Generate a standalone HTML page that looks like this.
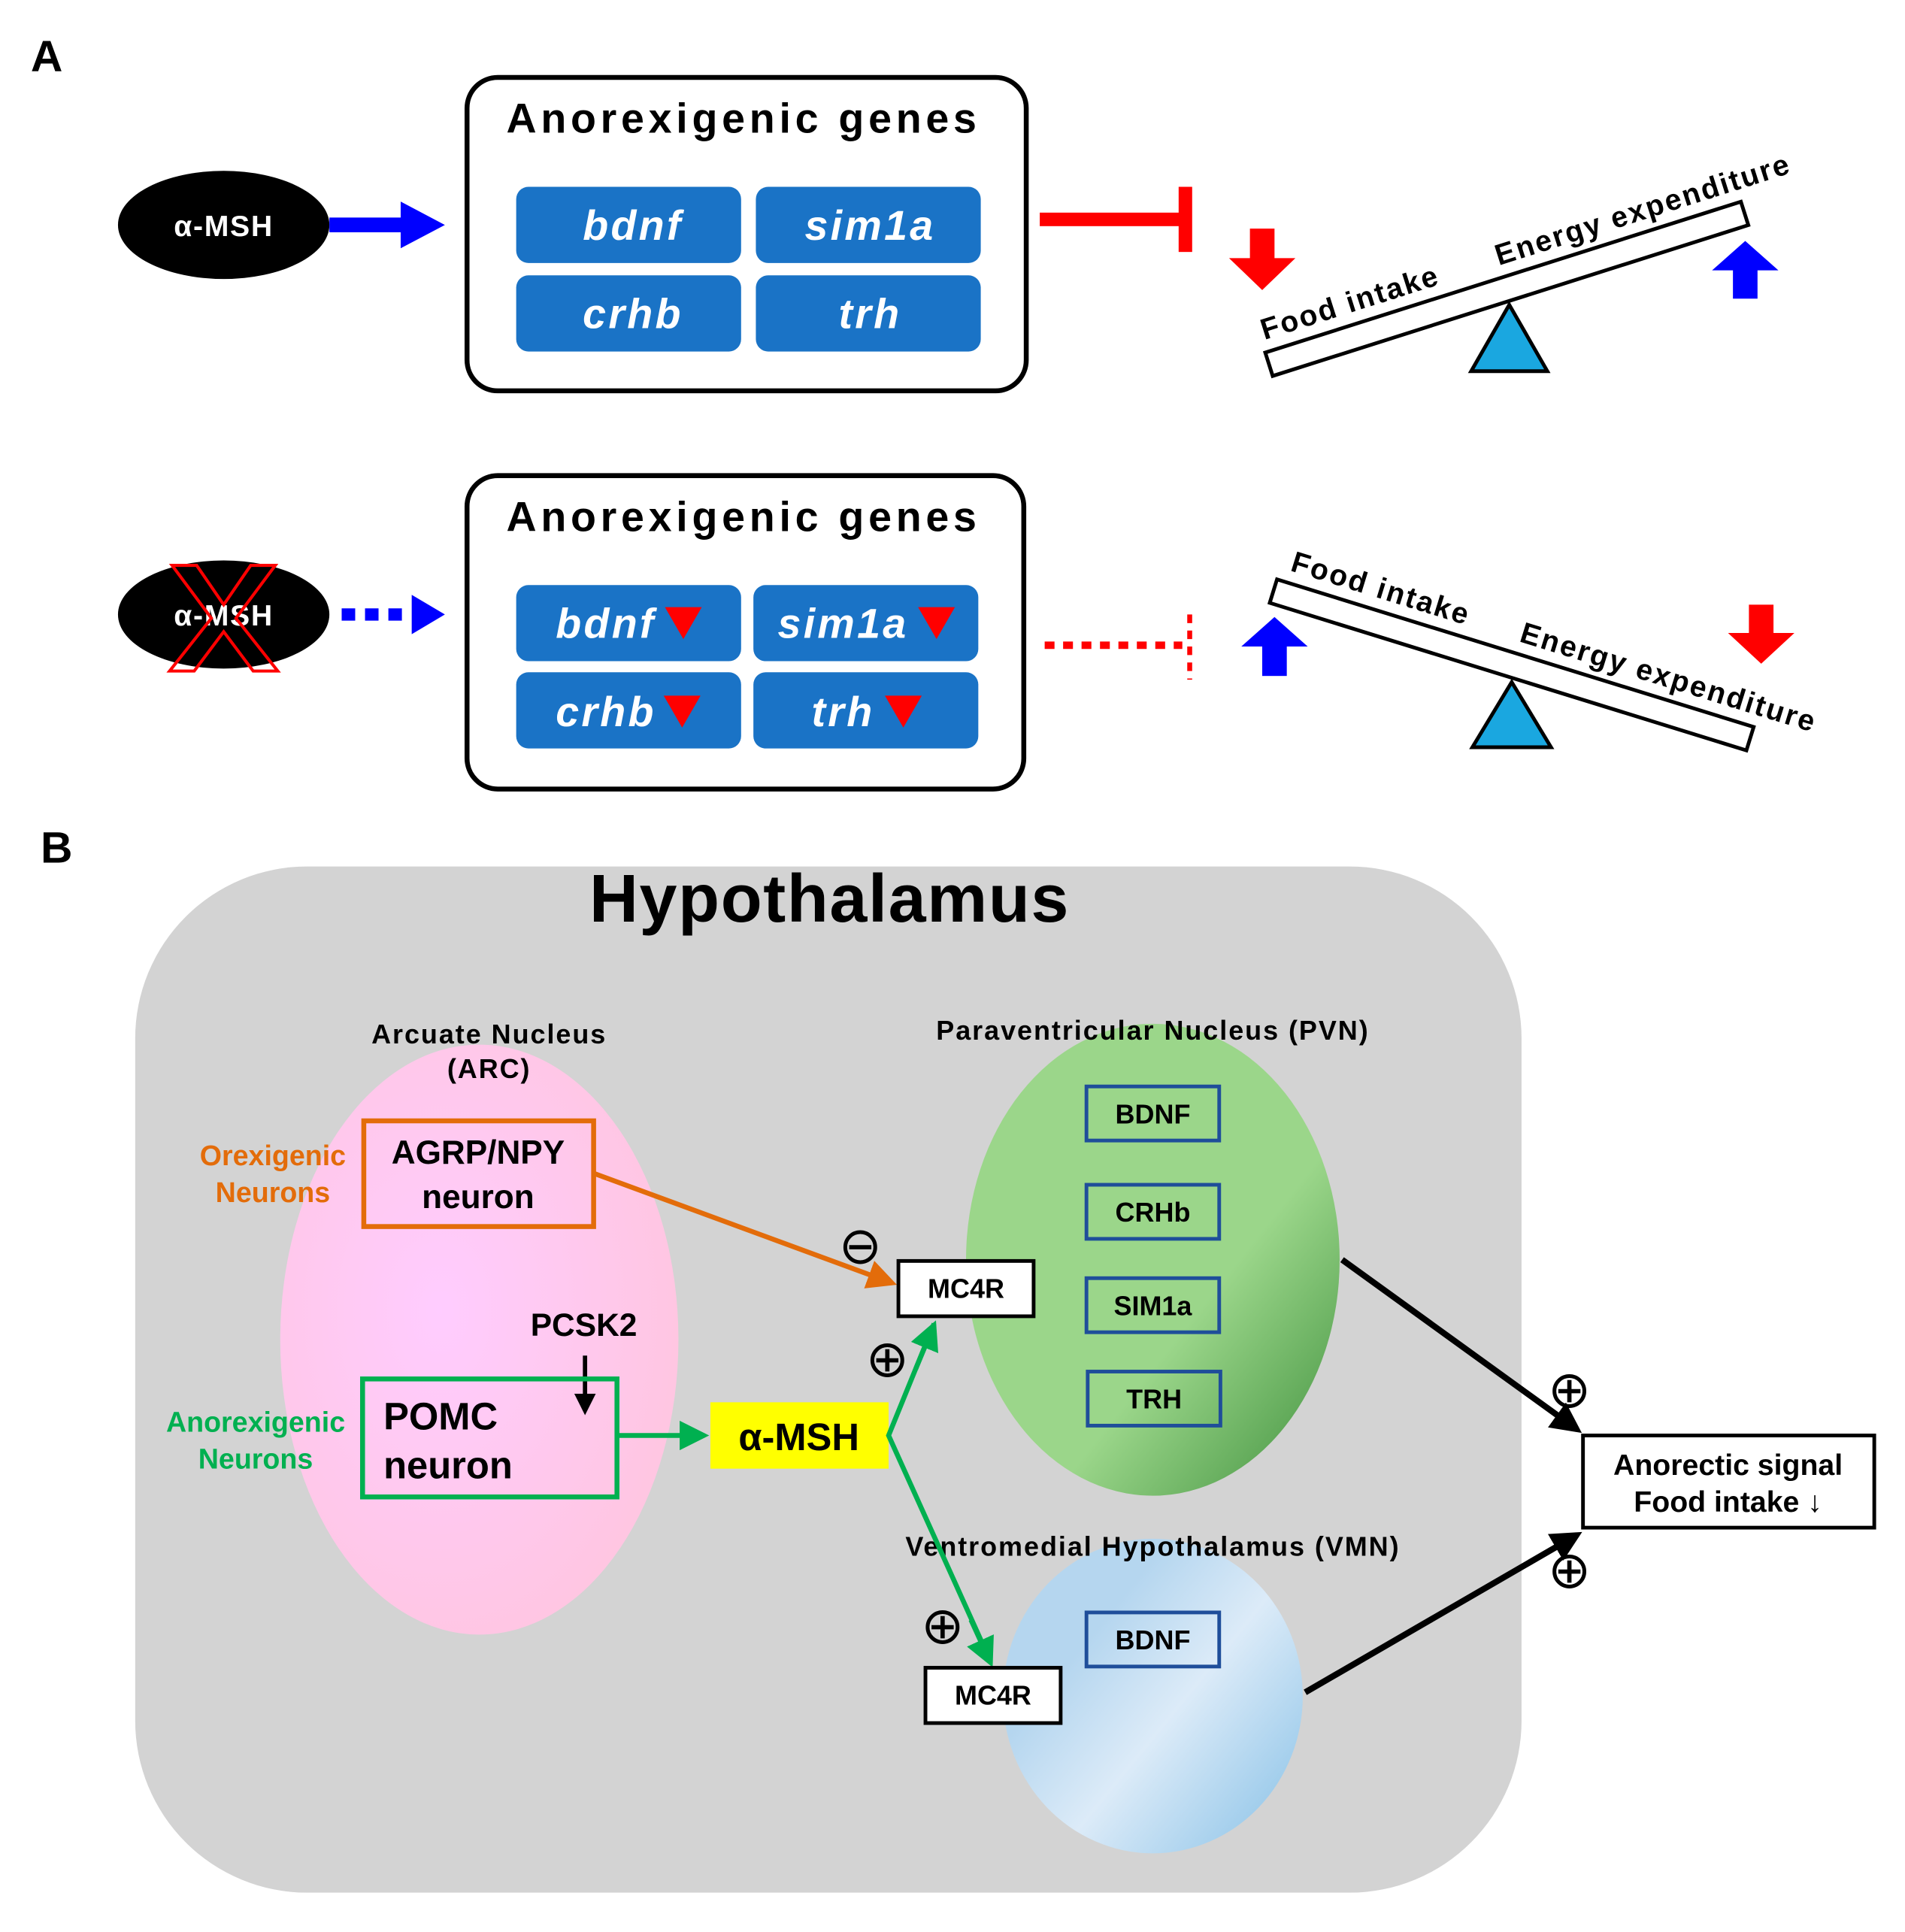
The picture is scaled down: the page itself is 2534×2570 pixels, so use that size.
<!DOCTYPE html>
<html><head><meta charset="utf-8"><style>
html,body{margin:0;padding:0;background:#fff;}
svg{display:block;}
text{font-family:"Liberation Sans",Arial,sans-serif;}
</style></head><body>
<svg width="2534" height="2570" viewBox="0 0 1550 1572" xmlns="http://www.w3.org/2000/svg">
<defs>
<radialGradient id="pink" cx="0.4" cy="0.45" r="0.6"><stop offset="0" stop-color="#ffccff"/><stop offset="1" stop-color="#ffc6e2"/></radialGradient>
<linearGradient id="grn" x1="0.3" y1="0.3" x2="1" y2="1"><stop offset="0.45" stop-color="#9bd68a"/><stop offset="1" stop-color="#3e8f3c"/></linearGradient>
<linearGradient id="blu" x1="0.3" y1="0.3" x2="1" y2="0.9"><stop offset="0" stop-color="#b5d6ef"/><stop offset="0.4" stop-color="#dcebf8"/><stop offset="1" stop-color="#8ec4e8"/></linearGradient>
<marker id="ao" markerWidth="6" markerHeight="6" refX="5" refY="3" orient="auto" markerUnits="strokeWidth"><path d="M0,0 L6,3 L0,6 z" fill="#e36c0a"/></marker>
<marker id="ag" markerWidth="6" markerHeight="6" refX="5" refY="3" orient="auto" markerUnits="strokeWidth"><path d="M0,0 L6,3 L0,6 z" fill="#00b050"/></marker>
<marker id="ak" markerWidth="5" markerHeight="5" refX="4" refY="2.5" orient="auto" markerUnits="strokeWidth"><path d="M0,0 L5,2.5 L0,5 z" fill="#000"/></marker>
</defs>

<!-- Part A -->
<text x="25" y="58" font-size="36" font-weight="bold">A</text>
<ellipse cx="182" cy="183" rx="86" ry="44" fill="#000"/>
<text x="182" y="192" font-size="24" font-weight="bold" fill="#fff" text-anchor="middle" letter-spacing="1">α-MSH</text>
<rect x="268" y="177" width="60" height="12" fill="#0000ff"/>
<path d="M326,164 L362,183 L326,202 z" fill="#0000ff"/>

<rect x="380" y="63" width="455" height="255" rx="25" fill="#fff" stroke="#000" stroke-width="4"/>
<text x="605" y="108" font-size="34" font-weight="bold" text-anchor="middle" letter-spacing="3.5">Anorexigenic genes</text>
<g fill="#1a73c6">
<rect x="420" y="152" width="183" height="62" rx="10"/><rect x="615" y="152" width="183" height="62" rx="10"/>
<rect x="420" y="224" width="183" height="62" rx="10"/><rect x="615" y="224" width="183" height="62" rx="10"/>
</g>
<g fill="#fff" font-size="34" font-weight="bold" font-style="italic" text-anchor="middle" letter-spacing="2">
<text x="515" y="195">bdnf</text><text x="708" y="195">sim1a</text>
<text x="515" y="267">crhb</text><text x="708" y="267">trh</text>
</g>
<rect x="846" y="173" width="120" height="11" fill="#ff0000"/>
<rect x="959" y="152" width="11" height="53" fill="#ff0000"/>
<rect x="1017" y="186" width="20" height="26" fill="#ff0000"/>
<path d="M1000,210 L1054,210 L1027,236 z" fill="#ff0000"/>

<g transform="translate(1226,235) rotate(-17.6)">
<rect x="-203" y="-10" width="406" height="20" fill="#fff" stroke="#000" stroke-width="3"/>
<text x="-125" y="-20" font-size="24" font-weight="bold" text-anchor="middle" letter-spacing="1.5">Food intake</text>
<text x="125" y="-20" font-size="24" font-weight="bold" text-anchor="middle" letter-spacing="1.5">Energy expenditure</text>
</g>
<path d="M1228,248 L1259,302 L1197,302 z" fill="#1aa7e0" stroke="#000" stroke-width="3"/>
<path d="M1393,220 L1420,196 L1447,220 z" fill="#0000ff"/>
<rect x="1410" y="218" width="20" height="25" fill="#0000ff"/>

<!-- Part A bottom -->
<ellipse cx="182" cy="500" rx="86" ry="44" fill="#000"/>
<text x="182" y="509" font-size="24" font-weight="bold" fill="#fff" text-anchor="middle" letter-spacing="1">α-MSH</text>
<g fill="none" stroke="#ff0000" stroke-width="2.5">
<path d="M140,460 L160,460 L182,492 L204,460 L224,460 L192,503 L226,546 L206,546 L182,514 L158,546 L138,546 L172,503 z"/>
</g>
<g fill="#0000ff"><rect x="278" y="495" width="11" height="10"/><rect x="297" y="495" width="11" height="10"/><rect x="316" y="495" width="11" height="10"/></g>
<path d="M335,484 L362,500 L335,516 z" fill="#0000ff"/>

<rect x="380" y="387" width="453" height="255" rx="25" fill="#fff" stroke="#000" stroke-width="4"/>
<text x="605" y="432" font-size="34" font-weight="bold" text-anchor="middle" letter-spacing="3.5">Anorexigenic genes</text>
<g fill="#1a73c6">
<rect x="420" y="476" width="183" height="62" rx="10"/><rect x="613" y="476" width="183" height="62" rx="10"/>
<rect x="420" y="547" width="183" height="62" rx="10"/><rect x="613" y="547" width="183" height="62" rx="10"/>
</g>
<g fill="#fff" font-size="34" font-weight="bold" font-style="italic" text-anchor="middle" letter-spacing="2">
<text x="493" y="519">bdnf</text><text x="686" y="519">sim1a</text>
<text x="493" y="591">crhb</text><text x="686" y="591">trh</text>
</g>
<g fill="#ff0000">
<path d="M541,494 L571,494 L556,520 z"/><path d="M747,494 L777,494 L762,520 z"/>
<path d="M540,566 L570,566 L555,592 z"/><path d="M720,566 L750,566 L735,592 z"/>
</g>
<line x1="850" y1="525" x2="962" y2="525" stroke="#ff0000" stroke-width="6" stroke-dasharray="8,7"/>
<line x1="968" y1="500" x2="968" y2="553" stroke="#ff0000" stroke-width="4" stroke-dasharray="7,6"/>

<g transform="translate(1230,541) rotate(17.2)">
<rect x="-203" y="-10" width="406" height="20" fill="#fff" stroke="#000" stroke-width="3"/>
<text x="-120" y="-20" font-size="24" font-weight="bold" text-anchor="middle" letter-spacing="1.5">Food intake</text>
<text x="125" y="-20" font-size="24" font-weight="bold" text-anchor="middle" letter-spacing="1.5">Energy expenditure</text>
</g>
<path d="M1230,555 L1262,608 L1198,608 z" fill="#1aa7e0" stroke="#000" stroke-width="3"/>
<path d="M1010,526 L1037,502 L1064,526 z" fill="#0000ff"/>
<rect x="1027" y="524" width="20" height="26" fill="#0000ff"/>
<rect x="1423" y="492" width="20" height="25" fill="#ff0000"/>
<path d="M1406,515 L1460,515 L1433,540 z" fill="#ff0000"/>

<!-- Part B -->
<text x="33" y="702" font-size="36" font-weight="bold">B</text>
<rect x="110" y="705" width="1128" height="835" rx="140" fill="#d3d3d3"/>
<text x="675" y="750" font-size="55" font-weight="bold" text-anchor="middle" letter-spacing="1">Hypothalamus</text>

<ellipse cx="390" cy="1090" rx="162" ry="240" fill="url(#pink)"/>
<ellipse cx="938" cy="1025" rx="152" ry="192" fill="url(#grn)"/>
<ellipse cx="938" cy="1380" rx="122" ry="128" fill="url(#blu)"/>

<g font-size="22" font-weight="bold" text-anchor="middle" letter-spacing="1.2">
<text x="398" y="849">Arcuate Nucleus</text><text x="398" y="877">(ARC)</text>
<text x="938" y="846">Paraventricular Nucleus (PVN)</text>
<text x="938" y="1266">Ventromedial Hypothalamus (VMN)</text>
</g>

<rect x="296" y="912" width="187" height="86" fill="none" stroke="#e36c0a" stroke-width="4"/>
<text x="389" y="947" font-size="27" font-weight="bold" text-anchor="middle">AGRP/NPY</text>
<text x="389" y="983" font-size="27" font-weight="bold" text-anchor="middle">neuron</text>
<text x="222" y="948" font-size="23" font-weight="bold" fill="#e36c0a" text-anchor="middle">Orexigenic</text>
<text x="222" y="978" font-size="23" font-weight="bold" fill="#e36c0a" text-anchor="middle">Neurons</text>
<line x1="484" y1="955" x2="726" y2="1044" stroke="#e36c0a" stroke-width="4" marker-end="url(#ao)"/>

<text x="475" y="1087" font-size="26" font-weight="bold" text-anchor="middle">PCSK2</text>
<line x1="476" y1="1103" x2="476" y2="1148" stroke="#000" stroke-width="3.5" marker-end="url(#ak)"/>
<rect x="295" y="1122" width="207" height="96" fill="none" stroke="#00b050" stroke-width="4"/>
<text x="312" y="1163" font-size="31" font-weight="bold">POMC</text>
<text x="312" y="1203" font-size="31" font-weight="bold">neuron</text>
<text x="208" y="1165" font-size="23" font-weight="bold" fill="#00b050" text-anchor="middle">Anorexigenic</text>
<text x="208" y="1195" font-size="23" font-weight="bold" fill="#00b050" text-anchor="middle">Neurons</text>
<line x1="502" y1="1168" x2="573" y2="1168" stroke="#00b050" stroke-width="4" marker-end="url(#ag)"/>

<rect x="578" y="1141" width="145" height="54" fill="#ffff00"/>
<text x="650" y="1180" font-size="31" font-weight="bold" text-anchor="middle">α-MSH</text>
<polyline points="760,1077 723,1168 806,1352" fill="none" stroke="#00b050" stroke-width="4"/>
<line x1="745" y1="1114" x2="760" y2="1078" stroke="#00b050" stroke-width="4" marker-end="url(#ag)"/>
<line x1="790" y1="1318" x2="806" y2="1353" stroke="#00b050" stroke-width="4" marker-end="url(#ag)"/>

<g font-size="42" text-anchor="middle" font-family="DejaVu Sans,sans-serif">
<text x="700" y="1028">⊖</text><text x="722" y="1120">⊕</text><text x="767" y="1337">⊕</text>
<text x="1277" y="1145">⊕</text><text x="1277" y="1292">⊕</text>
</g>

<rect x="731" y="1026" width="110" height="45" fill="#fff" stroke="#000" stroke-width="3"/>
<text x="786" y="1056" font-size="22" font-weight="bold" text-anchor="middle">MC4R</text>
<rect x="753" y="1357" width="110" height="45" fill="#fff" stroke="#000" stroke-width="3"/>
<text x="808" y="1387" font-size="22" font-weight="bold" text-anchor="middle">MC4R</text>

<g fill="none" stroke="#1f4e9a" stroke-width="3">
<rect x="884" y="884" width="108" height="44"/><rect x="884" y="964" width="108" height="44"/>
<rect x="884" y="1040" width="108" height="44"/><rect x="885" y="1116" width="108" height="44"/>
<rect x="884" y="1312" width="108" height="44"/>
</g>
<g font-size="22" font-weight="bold" text-anchor="middle">
<text x="938" y="914">BDNF</text><text x="938" y="994">CRHb</text>
<text x="938" y="1070">SIM1a</text><text x="939" y="1146">TRH</text>
<text x="938" y="1342">BDNF</text>
</g>

<line x1="1092" y1="1025" x2="1283" y2="1163" stroke="#000" stroke-width="5" marker-end="url(#ak)"/>
<line x1="1062" y1="1377" x2="1283" y2="1249" stroke="#000" stroke-width="5" marker-end="url(#ak)"/>
<rect x="1288" y="1168" width="237" height="75" fill="#fff" stroke="#000" stroke-width="3"/>
<text x="1406" y="1200" font-size="24" font-weight="bold" text-anchor="middle">Anorectic signal</text>
<text x="1406" y="1230" font-size="24" font-weight="bold" text-anchor="middle">Food intake ↓</text>
</svg>
</body></html>
